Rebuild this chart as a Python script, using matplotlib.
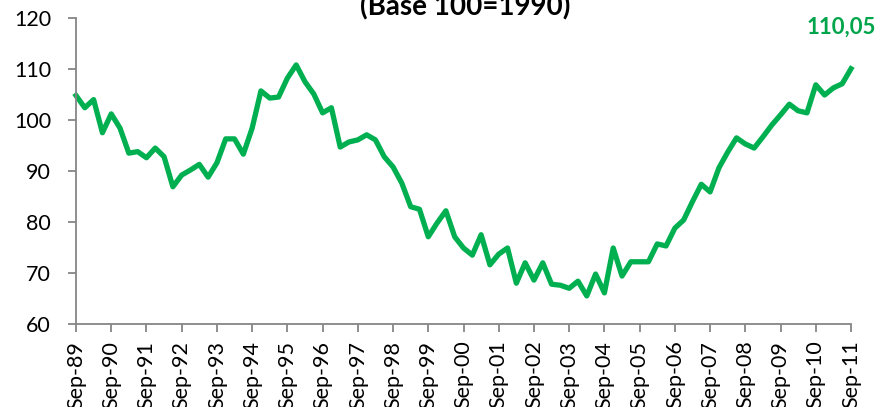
import matplotlib.pyplot as plt

# quarterly index values, Sep-89 .. Sep-11 (base 100 = 1990)
values = [
    104.8, 102.4, 104.0, 97.5, 101.2, 98.4, 93.5, 93.8, 92.6, 94.5,
    92.8, 86.9, 89.2, 90.2, 91.3, 88.8, 91.6, 96.3, 96.3, 93.3,
    98.4, 105.7, 104.3, 104.5, 108.2, 110.8, 107.5, 105.1, 101.4, 102.4,
    94.7, 95.7, 96.1, 97.1, 96.1, 92.8, 90.8, 87.6, 83.0, 82.5,
    77.1, 79.8, 82.2, 77.1, 74.9, 73.5, 77.5, 71.6, 73.7, 74.9,
    68.0, 72.0, 68.6, 72.0, 67.8, 67.6, 67.0, 68.4, 65.5, 69.8,
    66.1, 74.9, 69.4, 72.2, 72.2, 72.2, 75.7, 75.3, 78.8, 80.4,
    84.0, 87.4, 85.9, 90.6, 93.7, 96.5, 95.3, 94.5, 96.7, 99.0,
    101.0, 103.1, 101.8, 101.4, 106.9, 104.9, 106.3, 107.1, 110.05,
]
years = ['89', '90', '91', '92', '93', '94', '95', '96', '97', '98', '99',
         '00', '01', '02', '03', '04', '05', '06', '07', '08', '09', '10', '11']
tick_labels = ['Sep-' + y for y in years]
last_label = '110,05'

green = '#00B050'
grey = '#868686'
plt.rcParams['font.family'] = ['Lato', 'DejaVu Sans']

fig = plt.figure(figsize=(8.79, 4.07), dpi=100)
ax = fig.add_axes([76 / 879, 1 - 324 / 407, (851 - 76) / 879, (324 - 18) / 407])

x = list(range(len(values)))
ax.plot(x, values, color=green, lw=3.8, solid_joinstyle='round', clip_on=False)

ax.set_xlim(0, len(values) - 1)
ax.set_ylim(60, 120)
ax.set_yticks(range(60, 121, 10))
ax.set_xticks(range(0, len(values), 4))
ax.set_xticklabels(tick_labels, rotation=90)

for s in ['top', 'right']:
    ax.spines[s].set_visible(False)
for s in ['left', 'bottom']:
    ax.spines[s].set_color(grey)
    ax.spines[s].set_linewidth(1.3)
ax.tick_params(axis='both', colors=grey, width=1.3, length=6, labelcolor='black', labelsize=15.5)
ax.tick_params(axis='y', pad=12)
ax.tick_params(axis='x', pad=6)

ax.annotate(last_label, (x[-1], values[-1]), xytext=(-7, 22), textcoords='offset points',
            ha='center', va='bottom', color='#00A44A', fontsize=16, fontweight='bold')

fig.text(465 / 879, 1 - 15 / 407, '(Base 100=1990)', ha='center', va='baseline',
         fontsize=20, fontweight='bold')

fig.savefig('out.png', dpi=100)
